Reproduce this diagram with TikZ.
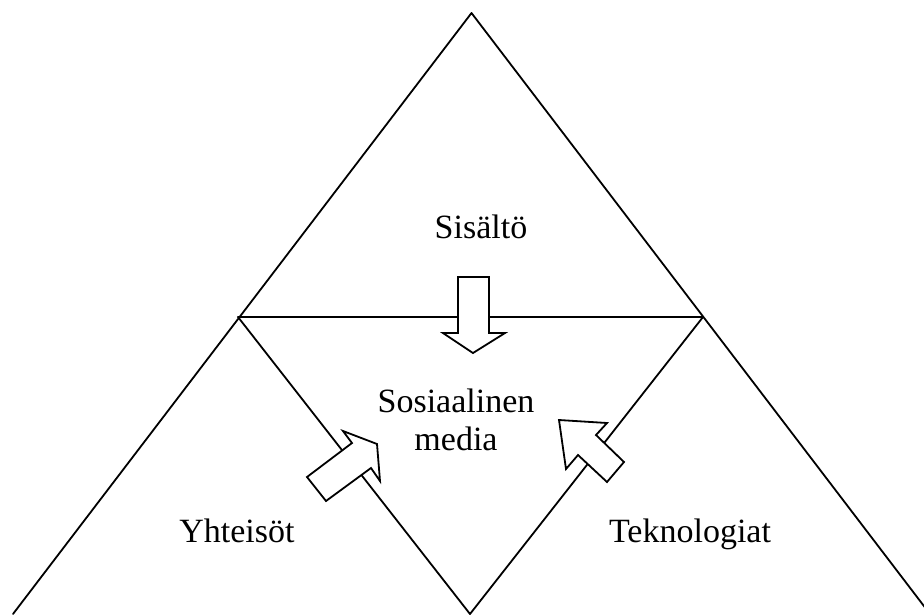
\documentclass[tikz,border=0pt]{standalone}
\usepackage{fontspec}
\setmainfont{Liberation Serif}
\begin{document}
\begin{tikzpicture}[x=1pt,y=-1pt,
  edge/.style={line width=1.8pt, line cap=round, line join=round},
  blockarrow/.style={draw, fill=white, line width=1.8pt, line join=miter},
  lbl/.style={font=\fontsize{34}{38}\selectfont, inner sep=0pt, anchor=base, align=center}]
\useasboundingbox (0,0) rectangle (924,614);
\clip (0,0) rectangle (924,614);
\coordinate (apex) at (471.5,13);
\coordinate (bl) at (13,614);
\coordinate (br) at (930,614);
\coordinate (lm) at (238,317);
\coordinate (rm) at (703,317);
\coordinate (bm) at (470,614);
\draw[edge] (bl) -- (apex) -- (br);
\draw[edge] (lm) -- (rm);
\draw[edge] (lm) -- (bm) -- (rm);
% down arrow
\draw[blockarrow] (458,277) -- (489,277) -- (489,333) -- (505,333) -- (473,353) -- (443,333) -- (458,333) -- cycle;
% left arrow
\draw[blockarrow] (352,443) -- (343,431) -- (377,444) -- (380,481) -- (371,468) -- (326,501) -- (307,477) -- cycle;
% right arrow
\draw[blockarrow] (559,420) -- (607,423) -- (596,435) -- (624,462) -- (607,482) -- (578,455) -- (566,469) -- cycle;
\node[lbl] (sisalto) at (481,238) {Sisältö};
\node[lbl] (some) at (456,450) {Sosiaalinen\\media};
\node[lbl] (yht) at (237,542) {Yhteisöt};
\node[lbl] (tek) at (690,542) {Teknologiat};
\end{tikzpicture}
\end{document}
